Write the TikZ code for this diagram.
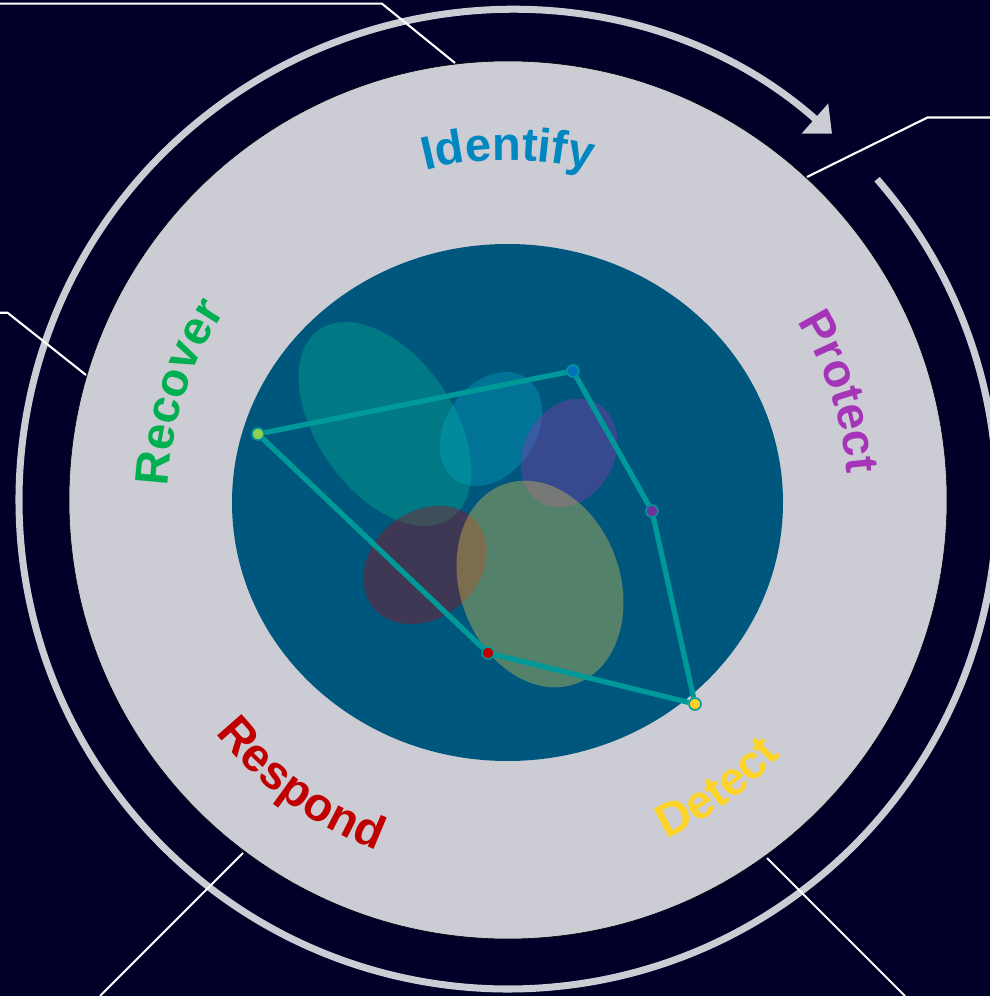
\documentclass[tikz,border=0pt]{standalone}
\usepackage{fontspec}
\setmainfont{Liberation Sans}
\usepackage{tikz}
\usetikzlibrary{arrows.meta}
\usetikzlibrary{decorations.text}

\definecolor{nightbg}{RGB}{0,0,40}
\definecolor{ringgray}{RGB}{203,204,212}
\definecolor{coreblue}{RGB}{0,87,125}
\definecolor{linkteal}{RGB}{0,153,153}
\definecolor{idblue}{RGB}{0,135,192}
\definecolor{prpurple}{RGB}{166,52,184}
\definecolor{degold}{RGB}{255,212,40}
\definecolor{rsred}{RGB}{192,0,0}
\definecolor{rcgreen}{RGB}{0,176,80}
\definecolor{iddot}{RGB}{0,112,192}
\definecolor{prdot}{RGB}{112,48,160}
\definecolor{dedot}{RGB}{255,210,40}
\definecolor{rsdot}{RGB}{192,0,0}
\definecolor{rcdot}{RGB}{146,208,80}
\definecolor{rcblob}{RGB}{0,185,150}
\definecolor{idblob}{RGB}{0,170,200}
\definecolor{prblob}{RGB}{160,50,180}
\definecolor{deblob}{RGB}{240,210,70}
\definecolor{rsblob}{RGB}{180,0,10}

\newcommand{\lblfont}{\fontsize{33.5}{40}\selectfont\bfseries}

\begin{document}
\begin{tikzpicture}[x=0.025cm,y=0.025cm,
    dot/.style={circle,draw=linkteal,line width=1.1pt,inner sep=0pt,minimum size=8.5pt},
    link/.style={linkteal,line width=3.7pt},
    wire/.style={white,line width=1.5pt},
    ring/.style={ringgray,line width=5pt},
    blob/.style={fill opacity=0.35},
    fnlabel/.style 2 args={decorate,decoration={text along path,text align=center,
        text={|\lblfont\color{#1}|#2}}}]
  \path[use as bounding box,fill=nightbg] (0,0) rectangle (990,996);
  \coordinate (hub) at (508,496);
  \draw[ring,-{Triangle[length=16.3pt,width=27.7pt]}]
    ([shift={(41:489)}]hub) arc[start angle=41,end angle=-311.5,radius=489];
  \draw[wire] (0,992.3) -- (382,992.3) -- (455,933);
  \draw[wire] (990,878.5) -- (927.5,878.5) -- (807,819);
  \draw[wire] (0,683.3) -- (7.5,683.3) -- (86,621);
  \draw[wire] (243,143) -- (100,0);
  \draw[wire] (767,138) -- (905,0);
  \fill[ringgray,draw=black,line width=0.4pt] (hub) circle[radius=439];
  \fill[coreblue] (507.5,493.5) ellipse[x radius=275.5,y radius=258.5];

  \fill[blob,rcblob,shift={(385,572)},rotate=-55] (0,0) ellipse[x radius=115,y radius=68];
  \fill[blob,idblob,shift={(491,567)},rotate=55] (0,0) ellipse[x radius=62,y radius=45];
  \fill[blob,prblob,shift={(569,543)},rotate=60] (0,0) ellipse[x radius=57,y radius=45];
  \fill[blob,rsblob,shift={(425,431)},rotate=40] (0,0) ellipse[x radius=67,y radius=53];
  \fill[blob,deblob,shift={(540,412)},rotate=-70] (0,0) ellipse[x radius=106,y radius=80];

  \path[fnlabel={idblue}{Identify}] ([shift={(130:340)}]hub) arc[start angle=130,end angle=50,radius=340];
  \path[fnlabel={prpurple}{Protect}] ([shift={(58:340)}]hub) arc[start angle=58,end angle=-22,radius=340];
  \path[fnlabel={rcgreen}{Recover}] ([shift={(202:340)}]hub) arc[start angle=202,end angle=122,radius=340];
  \path[fnlabel={rsred}{Respond}] ([shift={(-166:374)}]hub) arc[start angle=-166,end angle=-86,radius=374];
  \path[fnlabel={degold}{Detect}] ([shift={(-94:374)}]hub) arc[start angle=-94,end angle=-14,radius=374];

  \node[dot,fill=rcdot] (rc) at (258,562) {};
  \node[dot,fill=iddot] (id) at (573,625) {};
  \node[dot,fill=prdot] (pr) at (652,485) {};
  \node[dot,fill=dedot] (de) at (695,292) {};
  \node[dot,fill=rsdot] (rs) at (488,343) {};
  \draw[link] (rc) -- (id) -- (pr) -- (de) -- (rs) -- (rc);
\end{tikzpicture}
\end{document}
